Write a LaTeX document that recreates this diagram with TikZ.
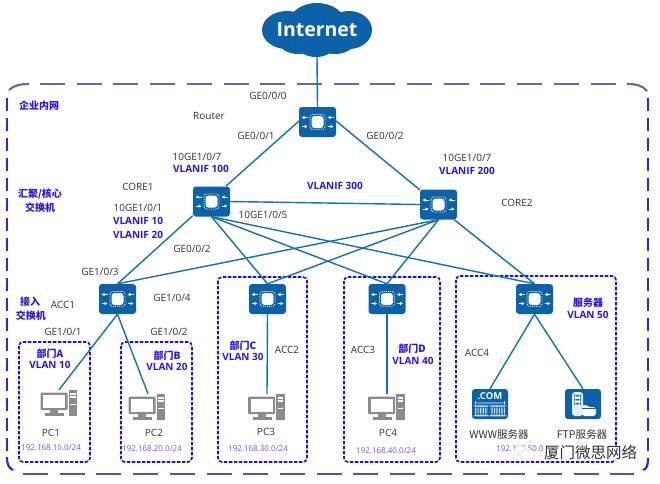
\documentclass[tikz,border=0pt]{standalone}
\usepackage{fontspec}
\setmainfont{Open Sans}
\newfontfamily\cjk{Noto Sans CJK SC}
\usetikzlibrary{calc,arrows.meta}
\definecolor{nblue}{HTML}{0B62A8}
\definecolor{linkblue}{HTML}{1570AE}
\definecolor{lblue}{HTML}{2A14E6}
\definecolor{ipblue}{HTML}{6A58F0}
\definecolor{dashblue}{HTML}{1010F0}
\definecolor{sideblue}{HTML}{2C2CD4}
\definecolor{toppurple}{HTML}{6A66A8}
\definecolor{botpurple}{HTML}{5252B8}
\definecolor{pcgray}{HTML}{8C8C8C}
\definecolor{txt}{HTML}{333333}
\tikzset{
  link/.style={draw=linkblue,line width=1.4pt},
  lab/.style={text=txt,font=\fontsize{10}{12}\selectfont,inner sep=0pt},
  blab/.style={text=lblue,font=\fontsize{10}{12}\selectfont\bfseries,inner sep=0pt},
  zlab/.style={text=lblue,font=\fontsize{10}{12}\selectfont\bfseries\cjk,inner sep=0pt},
  iplab/.style={text=ipblue,font=\fontsize{8}{10}\selectfont,inner sep=0pt},
  zone/.style={draw=dashblue,line width=1.6pt,dash pattern=on 3.4pt off 1.6pt,rounded corners=4pt},
  frametop/.style={draw=toppurple,line width=2.2pt},
  framebot/.style={draw=botpurple,line width=2.2pt},
  frameside/.style={draw=sideblue,line width=2.2pt},
  swarrow/.style={white,line width=0.9pt,-{Latex[length=3pt,width=3.6pt]}},
  swnode/.style={rectangle,rounded corners=3pt,fill=nblue,minimum width=37pt,minimum height=30pt,inner sep=0pt,
    path picture={
      \fill[white] (-6,-6) rectangle (6,6);
      \draw[white,line width=0.7pt,dash pattern=on 1pt off 1pt] (-7.6,-7.6) rectangle (7.6,7.6);
      \draw[swarrow] (-10,-4.5) -- (-16,-4.5);
      \draw[swarrow] (16,-4.5) -- (10,-4.5);
      \draw[swarrow] (-16,4.5) -- (-10,4.5);
      \draw[swarrow] (10,4.5) -- (16,4.5);
    }},
  pcnode/.style={rectangle,minimum width=37pt,minimum height=28pt,inner sep=0pt,
    path picture={\begin{scope}[x=1pt,y=1pt]
      \fill[pcgray] (9.5,-14) rectangle (18,12);
      \fill[white] (11,9) rectangle (16.5,7.5);
      \fill[white] (11,6) rectangle (16.5,4.5);
      \fill[white] (11,-2) rectangle (16.5,-3);
      \fill[white] (6,14) rectangle (9.5,-14);
      \fill[pcgray,rounded corners=1pt] (-18.5,9.5) rectangle (8.5,-8);
      \fill[white] (-16,7.5) rectangle (6,-6);
      \fill[pcgray] (-9,-8) rectangle (-1,-11);
      \fill[pcgray] (-14,-11) rectangle (5,-14);
    \end{scope}}},
  wwwnode/.style={rectangle,rounded corners=3pt,fill=nblue,minimum width=36pt,minimum height=30pt,inner sep=0pt,
    path picture={\begin{scope}[x=1pt,y=1pt]
      \node[text=white,font=\fontsize{9.5}{10}\selectfont\bfseries,inner sep=0pt] at (0,8) {.COM};
      \fill[white] (-15,1.5) rectangle (15,0.7);
      \foreach \xx in {-15,-13.4,-11.6,-10,-8.4,-6.8,-5,-3.4,0.8,2.4,4.2,5.8,7.4,9,10.8,12.4,14}
        \fill[white!80!nblue] (\xx,-1.5) rectangle ++(0.8,-10.5);
    \end{scope}}},
  ftpnode/.style={rectangle,rounded corners=3pt,fill=nblue,minimum width=36pt,minimum height=30pt,inner sep=0pt,
    path picture={\begin{scope}[x=1pt,y=1pt]
      \fill[white!90!nblue] (-11,12) rectangle (0,-12);
      \fill[nblue] (-9,9) rectangle (-2,7.5);
      \fill[nblue] (-9,5) rectangle (-2,3.5);
      \fill[nblue] (-9,1) rectangle (-2,-0.5);
      \fill[white] (-1,-1) -- (3,-1) -- (5,-3) -- (13,-3) -- (13,-12) -- (-1,-12) -- cycle;
      \draw[nblue,line width=0.6pt] (-1,-4) -- (13,-4);
    \end{scope}}},
}
\begin{document}
\begin{tikzpicture}[x=1pt,y=-1pt]
\useasboundingbox (0,0) rectangle (660,483);
% outer frame
\draw[frametop,dash pattern=on 25pt off 12pt] (9,90) .. controls (13,86) and (19,84) .. (29,84);
\draw[frametop,dash pattern=on 25pt off 11.7pt] (40,84) -- (630,84);
\draw[frametop] (627,84) .. controls (637,84) and (643,86) .. (647,91);
\draw[frameside,dash pattern=on 12.5pt off 7.5pt] (7,98) -- (7,452);
\draw[frameside,dash pattern=on 12.5pt off 7.5pt] (648,98) -- (648,455);
\draw[frameside] (7,457) .. controls (7,465) and (9,468) .. (13,470);
\draw[framebot,dash pattern=on 25pt off 11.7pt] (23,474) -- (634,474);
\draw[frameside] (648,458) .. controls (648,465) and (647,469) .. (643,470);
% zones
\draw[zone] (19,342) rectangle (90,462);
\draw[zone] (121,342) rectangle (192,462);
\draw[zone] (218,277) rectangle (307,462);
\draw[zone] (344,277) rectangle (440,462);
\draw[zone] (456,276) rectangle (616,462);
% cloud
\fill[nblue] (287,30) ellipse (25 and 19) (317,23) ellipse (28 and 20) (349,30) ellipse (23 and 19)
  (298,40) ellipse (20 and 14) (335,41) ellipse (20 and 13) (316,46) ellipse (18 and 11);
\node[text=white,font=\fontsize{19.5}{24}\selectfont\bfseries,inner sep=0pt,minimum width=110pt,minimum height=54pt] (inet) at (317,30) {Internet};
% links
\coordinate (r1) at (299,121);
\coordinate (r2) at (336,121);
\coordinate (c1a) at (226,186);
\coordinate (c2a) at (420,190);
% devices
\node[swnode] (router) at (317.5,122) {};
\node[swnode] (core1) at (211.5,201.5) {};
\node[swnode] (core2) at (438.5,204.5) {};
\node[swnode] (acc1) at (117.5,299) {};
\node[swnode] (acc2) at (267.5,299) {};
\node[swnode] (acc3) at (387,299) {};
\node[swnode] (acc4) at (534.5,299) {};
\node[pcnode] (pc1) at (59,402) {};
\node[pcnode] (pc2) at (147,406) {};
\node[pcnode] (pc3) at (266.5,406) {};
\node[pcnode] (pc4) at (386.5,406) {};
\node[wwwnode] (www) at (490,404) {};
\node[ftpnode] (ftp) at (583,404) {};
\draw[link] (inet.south) -- (router.north);
\draw[link] (r1) -- (c1a);
\draw[link] (r2) -- (c2a);
\draw[link] (core1.east) -- (core2.west);
\draw[link] ($(core1.south west)+(0,-1)$) -- (acc1.north);
\draw[link] (core2.south) -- (acc1.north);
\draw[link] (core1.south) -- (acc2.north);
\draw[link] (core2.south) -- (acc2.north);
\draw[link] (core1.south) -- (acc3.north);
\draw[link] (core2.south) -- (acc3.north);
\draw[link] (core1.south) -- (acc4.north);
\draw[link] ($(core2.south east)+(-3,0)$) -- (acc4.north);
\draw[link] (acc1.south) -- ($(pc1.north)+(0,2)$);
\draw[link] (acc1.south) -- ($(pc2.north)+(1,2)$);
\draw[link] (acc2.south) -- ($(pc3.north)+(0.5,2)$);
\draw[link] (acc3.south) -- ($(pc4.north)+(0.5,2)$);
\draw[link] (acc4.south) -- (www.north);
\draw[link] (acc4.south) -- (ftp.north);
% labels
\node[lab] (l1) at (268,96) {GE0/0/0};
\node[lab] (l2) at (209,116) {Router};
\node[lab] (l3) at (256,136) {GE0/0/1};
\node[lab] (l4) at (197,157) {10GE1/0/7};
\node[blab] (l5) at (201,169) {VLANIF 100};
\node[lab] (l6) at (138,187) {CORE1};
\node[lab] (l7) at (138,208) {10GE1/0/1};
\node[blab] (l8) at (138,221) {VLANIF 10};
\node[blab] (l9) at (138,235) {VLANIF 20};
\node[lab] (l10) at (263,215) {10GE1/0/5};
\node[blab] (l11) at (335,186) {VLANIF 300};
\node[lab] (l12) at (385,136) {GE0/0/2};
\node[lab] (l13) at (467,158) {10GE1/0/7};
\node[blab] (l14) at (467,171) {VLANIF 200};
\node[lab] (l15) at (517,203) {CORE2};
\node[zlab] (z1) at (39,106) {企业内网};
\node[zlab] (z2) at (40,194) {汇聚/核心};
\node[zlab] (z3) at (40,208) {交换机};
\node[lab] (l16) at (192,249) {GE0/0/2};
\node[lab] (l17) at (100,272) {GE1/0/3};
\node[lab] (l18) at (172,298) {GE1/0/4};
\node[zlab] (z4) at (30,302) {接入};
\node[zlab] (z5) at (31,316) {交换机};
\node[lab] (l19) at (63,305) {ACC1};
\node[lab] (l20) at (63,332) {GE1/0/1};
\node[lab] (l21) at (169,332) {GE1/0/2};
\node[zlab] (z6) at (50,354) {部门A};
\node[blab] (l22) at (50,365) {VLAN 10};
\node[zlab] (z7) at (167,356) {部门B};
\node[blab] (l23) at (167,367) {VLAN 20};
\node[lab] (l24) at (51,433) {PC1};
\node[lab] (l25) at (154,433) {PC2};
\node[lab] (l26) at (266,432) {PC3};
\node[iplab] (i1) at (51,448) {192.168.10.0/24};
\node[iplab] (i2) at (152,449) {192.168.20.0/24};
\node[iplab] (i3) at (258,449) {192.168.30.0/24};
\node[zlab] (z8) at (243,346) {部门C};
\node[blab] (l27) at (243,357) {VLAN 30};
\node[lab] (l28) at (287,350) {ACC2};
\node[lab] (l29) at (363,350) {ACC3};
\node[zlab] (z9) at (412,349) {部门D};
\node[blab] (l30) at (413,361) {VLAN 40};
\node[lab] (l31) at (388,433) {PC4};
\node[iplab] (i4) at (386,451) {192.168.40.0/24};
\node[lab] (l32) at (477,353) {ACC4};
\node[zlab] (z10) at (588,303) {服务器};
\node[blab] (l33) at (588,315) {VLAN 50};
\node[lab,font=\fontsize{10.5}{12}\selectfont\cjk] (l34) at (499,434) {WWW服务器};
\node[lab,font=\fontsize{10.5}{12}\selectfont\cjk] (l35) at (582,434) {FTP服务器};
\node[iplab,anchor=west,text width=48pt,align=left] (i5) at (496,449) {192.168.50.0};
% watermark
\fill[white,draw=gray!40,line width=0.4pt] (520,450) ellipse (6 and 5);
\fill[white,draw=gray!40,line width=0.4pt] (528,455) ellipse (7 and 6);
\node[text=txt,fill=white,font=\fontsize{15.5}{17}\selectfont\cjk,inner sep=0pt,anchor=west] (wm) at (544,453) {厦门微思网络};
\end{tikzpicture}
\end{document}
